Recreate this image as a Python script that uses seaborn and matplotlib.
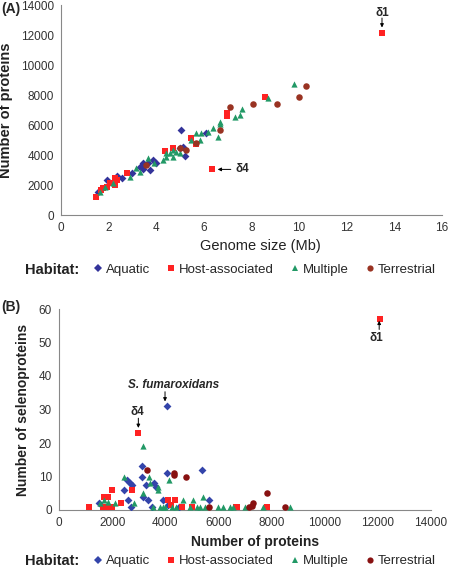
import numpy as np
import pandas as pd
import matplotlib
matplotlib.use("Agg")
import matplotlib.pyplot as plt
import seaborn as sns
from matplotlib.lines import Line2D

sns.set_style("white")
plt.rcParams['font.family'] = ['Liberation Sans', 'DejaVu Sans']

# ---------------- Panel A data: genome size (Mb) vs number of proteins ----------------
a_aquatic_x = [1.57, 1.92, 2.34, 2.55, 2.97, 3.30, 3.45, 3.45, 3.66, 3.73, 3.87, 4.00, 4.99, 5.06, 5.13, 5.20, 6.11]
a_aquatic_y = [1556, 2330, 2600, 2500, 2780, 3220, 3500, 3100, 3440, 3000, 3670, 3440, 4440, 5670, 4560, 3950, 5440]

a_host_x = [1.45, 1.70, 1.78, 1.92, 2.06, 2.27, 2.27, 2.34, 2.76, 4.36, 4.71, 5.48, 5.69, 6.36, 6.97, 6.97, 8.56, 13.48]
a_host_y = [1180, 1670, 1780, 1890, 2110, 2440, 2000, 2330, 2780, 4290, 4440, 5150, 4730, 3040, 6780, 6600, 7890, 12110]

a_mult_x = [1.64, 1.85, 2.20, 2.90, 3.17, 3.31, 3.66, 3.90, 4.29, 4.43, 4.43, 4.57, 4.71, 4.71, 4.85, 4.99, 5.48,
            5.69, 5.83, 5.90, 6.18, 6.39, 6.60, 6.67, 6.67, 7.30, 7.51, 7.61, 8.70, 9.79]
a_mult_y = [1560, 1890, 2110, 2560, 3110, 2890, 3780, 3440, 3670, 3890, 4110, 4110, 3890, 4330, 4220, 4110, 5000,
            5440, 5000, 5440, 5560, 5780, 5220, 6220, 6060, 6560, 6670, 7040, 7780, 8730]

a_terr_x = [3.57, 4.99, 5.27, 5.69, 6.67, 7.09, 8.07, 9.05, 9.99, 10.28]
a_terr_y = [3330, 4440, 4330, 4820, 5670, 7220, 7380, 7380, 7840, 8600]

# ---------------- Panel B data: number of proteins vs number of selenoproteins ----------------
b_aquatic_x = [1518, 2447, 2585, 2572, 2672, 2760, 2710, 3112, 3112, 3174, 3262, 3337, 3488, 3576, 3638, 3927,
               4065, 4065, 4090, 4517, 5370, 5659]
b_aquatic_y = [2, 6, 3, 9, 8, 7.5, 1, 13, 10, 4, 7.5, 3, 1, 8, 7, 3, 31, 11, 1.5, 1, 12, 3]

b_host_x = [1142, 1669, 1694, 1794, 1857, 1982, 1995, 2334, 2735, 2986, 4115, 4203, 4366, 4617, 4994, 6663, 6713,
            7817, 12083]
b_host_y = [1, 1, 4, 1, 4, 1, 6, 2, 6, 23, 3, 1.5, 3, 1, 1, 1, 1, 1, 57]

b_mult_x = [1543, 1694, 1832, 2108, 2459, 2836, 3174, 3174, 3400, 3438, 3526, 3714, 3739, 3800, 3900, 4000, 4140,
            4250, 4400, 4680, 4931, 5031, 5182, 5307, 5408, 5496, 5973, 6161, 6437, 6563, 7001, 7691, 8695]
b_mult_y = [2, 3, 2.5, 2, 10, 2, 19, 5, 10, 8, 1, 7, 6, 1, 1, 1, 9,
            1, 1, 3, 1, 3, 1, 1, 4, 1, 1, 1, 1, 1, 1, 1, 1]

b_terr_x = [3312, 4316, 4329, 4768, 5646, 7164, 7277, 7315, 7817, 8507]
b_terr_y = [12, 11, 10.5, 10, 1, 1, 1.2, 2, 5, 1]

habitats = ["Aquatic", "Host-associated", "Multiple", "Terrestrial"]
markers = {"Aquatic": "D", "Host-associated": "s", "Multiple": "^", "Terrestrial": "o"}
sizes = {"Aquatic": 16, "Host-associated": 22, "Multiple": 20, "Terrestrial": 22}
pal_a = {"Aquatic": "#33339a", "Host-associated": "#ff2222", "Multiple": "#229966", "Terrestrial": "#993322"}
pal_b = {"Aquatic": "#3344aa", "Host-associated": "#ff2222", "Multiple": "#229966", "Terrestrial": "#881111"}


def make_df(xs, ys):
    rows = []
    for h, (x, y) in zip(habitats, zip(xs, ys)):
        for xi, yi in zip(x, y):
            rows.append((xi, yi, h))
    return pd.DataFrame(rows, columns=["x", "y", "Habitat"])


df_a = make_df([a_aquatic_x, a_host_x, a_mult_x, a_terr_x], [a_aquatic_y, a_host_y, a_mult_y, a_terr_y])
df_b = make_df([b_aquatic_x, b_host_x, b_mult_x, b_terr_x], [b_aquatic_y, b_host_y, b_mult_y, b_terr_y])

fig = plt.figure(figsize=(4.49, 5.70), dpi=100)
axA = fig.add_axes([61 / 449, 1 - 215 / 570, 381 / 449, 210 / 570])
axB = fig.add_axes([59 / 449, 1 - 510 / 570, 372 / 449, 201 / 570])

spine_col = "#888888"
tick_col = "#333333"


def draw(ax, df, pal):
    for h in habitats:
        sub = df[df["Habitat"] == h]
        sns.scatterplot(data=sub, x="x", y="y", ax=ax, marker=markers[h], color=pal[h],
                        s=sizes[h], linewidth=0, legend=False, zorder=3)
    sns.despine(ax=ax)
    for s in ["left", "bottom"]:
        ax.spines[s].set_color(spine_col)
        ax.spines[s].set_linewidth(0.8)
    ax.tick_params(axis="both", direction="out", length=3, width=0.6, color=spine_col,
                   labelsize=8.5, labelcolor=tick_col, pad=2)


def arrow(ax, start, end):
    ax.annotate("", xy=end, xytext=start,
                arrowprops=dict(arrowstyle="-|>", color="black", lw=0.7, mutation_scale=5,
                                shrinkA=0, shrinkB=0))


draw(axA, df_a, pal_a)
axA.set_xlim(0, 16)
axA.set_ylim(0, 14000)
axA.set_xticks(range(0, 17, 2))
axA.set_yticks(range(0, 14001, 2000))
axA.set_xlabel("Genome size (Mb)", fontsize=10.5, color="#222222")
axA.xaxis.set_label_coords(0.524, -0.115)
axA.set_ylabel("Number of proteins", fontsize=10.5, fontweight="bold", color="#222222", labelpad=6)

axA.text(13.48, 13470, "δ1", ha="center", va="center", fontsize=8.5, fontweight="bold")
arrow(axA, (13.48, 13130), (13.48, 12500))
axA.text(7.6, 3040, "δ4", ha="center", va="center", fontsize=8.5, fontweight="bold")
arrow(axA, (7.13, 3040), (6.58, 3040))

draw(axB, df_b, pal_b)
axB.set_xlim(0, 14000)
axB.set_ylim(0, 60)
axB.set_xticks(range(0, 14001, 2000))
axB.set_yticks(range(0, 61, 10))
axB.set_xlabel("Number of proteins", fontsize=10, fontweight="bold", color="#222222")
axB.xaxis.set_label_coords(0.527, -0.125)
axB.set_ylabel("Number of selenoproteins", fontsize=10, fontweight="bold", color="#222222", labelpad=6)

axB.text(11956, 51.3, "δ1", ha="center", va="center", fontsize=8.5, fontweight="bold")
arrow(axB, (12050, 53.9), (12050, 56.5))
axB.text(2947, 29.3, "δ4", ha="center", va="center", fontsize=8.5, fontweight="bold")
arrow(axB, (2986, 27.4), (2986, 24.5))
axB.text(4302, 37.3, "S. fumaroxidans", ha="center", va="center", fontsize=8.5, fontweight="bold",
         style="italic")
arrow(axB, (3990, 35.3), (3990, 32.4))

fig.text(0.003, 0.985, "(A)", fontsize=10, fontweight="bold", ha="left", va="center")
fig.text(0.003, 0.462, "(B)", fontsize=10, fontweight="bold", ha="left", va="center")


def legend_row(y_px, pal):
    fig.text(25 / 449, 1 - y_px / 570, "Habitat:", fontsize=10.5, fontweight="bold", ha="left", va="center",
             color="#222222")
    handles = [Line2D([], [], marker=markers[h], color=pal[h], linestyle="none",
                      markersize=np.sqrt(sizes[h]) * 0.95, markeredgewidth=0) for h in habitats]
    fig.legend(handles, habitats, loc="center left", bbox_to_anchor=(94 / 449, 1 - y_px / 570), ncol=4,
               frameon=False, fontsize=9.5, handlelength=0.6, handletextpad=0.3, columnspacing=1.3,
               borderaxespad=0, borderpad=0)


legend_row(270, pal_a)
legend_row(561, pal_b)

fig.savefig("out.png", dpi=100)
